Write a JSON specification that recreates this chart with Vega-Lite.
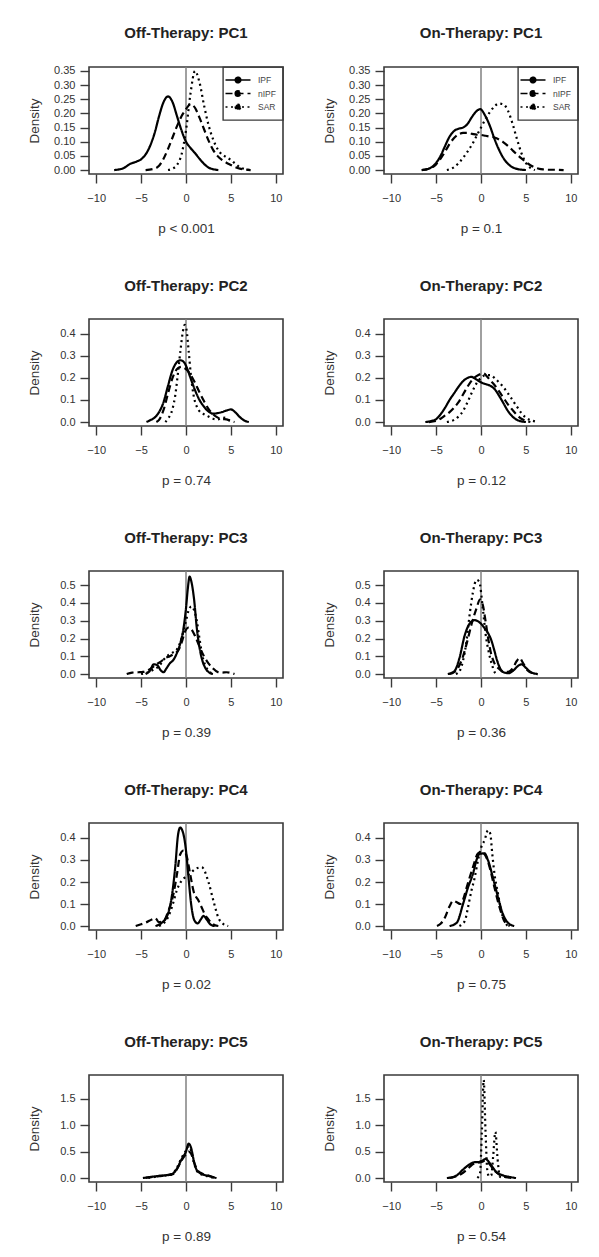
{
"$schema": "https://vega.github.io/schema/vega-lite/v6.json",
"padding": {"left": 26, "top": 25, "right": 4, "bottom": 4},
"background": "white",
"datasets": {"dens": [
{"p":"Off1","g":"IPF","x":-8,"y":0},{"p":"Off1","g":"IPF","x":-7,"y":0.006},{"p":"Off1","g":"IPF","x":-6.2,"y":0.022},{"p":"Off1","g":"IPF","x":-5.5,"y":0.03},{"p":"Off1","g":"IPF","x":-5,"y":0.038},{"p":"Off1","g":"IPF","x":-4.5,"y":0.055},{"p":"Off1","g":"IPF","x":-4,"y":0.085},{"p":"Off1","g":"IPF","x":-3.5,"y":0.13},{"p":"Off1","g":"IPF","x":-3,"y":0.19},{"p":"Off1","g":"IPF","x":-2.5,"y":0.24},{"p":"Off1","g":"IPF","x":-2,"y":0.26},{"p":"Off1","g":"IPF","x":-1.5,"y":0.24},{"p":"Off1","g":"IPF","x":-1,"y":0.19},{"p":"Off1","g":"IPF","x":-0.5,"y":0.14},{"p":"Off1","g":"IPF","x":0,"y":0.1},{"p":"Off1","g":"IPF","x":0.5,"y":0.078},{"p":"Off1","g":"IPF","x":1,"y":0.06},{"p":"Off1","g":"IPF","x":1.5,"y":0.04},{"p":"Off1","g":"IPF","x":2,"y":0.022},{"p":"Off1","g":"IPF","x":2.5,"y":0.009},{"p":"Off1","g":"IPF","x":3,"y":0.003},{"p":"Off1","g":"IPF","x":3.6,"y":0},
{"p":"Off1","g":"nIPF","x":-4.5,"y":0},{"p":"Off1","g":"nIPF","x":-3.5,"y":0.005},{"p":"Off1","g":"nIPF","x":-3,"y":0.015},{"p":"Off1","g":"nIPF","x":-2.5,"y":0.04},{"p":"Off1","g":"nIPF","x":-2,"y":0.075},{"p":"Off1","g":"nIPF","x":-1.5,"y":0.115},{"p":"Off1","g":"nIPF","x":-1,"y":0.155},{"p":"Off1","g":"nIPF","x":-0.5,"y":0.19},{"p":"Off1","g":"nIPF","x":0,"y":0.215},{"p":"Off1","g":"nIPF","x":0.5,"y":0.233},{"p":"Off1","g":"nIPF","x":1,"y":0.22},{"p":"Off1","g":"nIPF","x":1.5,"y":0.185},{"p":"Off1","g":"nIPF","x":2,"y":0.145},{"p":"Off1","g":"nIPF","x":2.5,"y":0.105},{"p":"Off1","g":"nIPF","x":3,"y":0.072},{"p":"Off1","g":"nIPF","x":3.5,"y":0.05},{"p":"Off1","g":"nIPF","x":4,"y":0.036},{"p":"Off1","g":"nIPF","x":4.5,"y":0.026},{"p":"Off1","g":"nIPF","x":5,"y":0.018},{"p":"Off1","g":"nIPF","x":5.5,"y":0.01},{"p":"Off1","g":"nIPF","x":6,"y":0.005},{"p":"Off1","g":"nIPF","x":6.5,"y":0.002},{"p":"Off1","g":"nIPF","x":7.2,"y":0},
{"p":"Off1","g":"SAR","x":-2,"y":0},{"p":"Off1","g":"SAR","x":-1.5,"y":0.005},{"p":"Off1","g":"SAR","x":-1,"y":0.018},{"p":"Off1","g":"SAR","x":-0.5,"y":0.055},{"p":"Off1","g":"SAR","x":0,"y":0.14},{"p":"Off1","g":"SAR","x":0.5,"y":0.27},{"p":"Off1","g":"SAR","x":1,"y":0.35},{"p":"Off1","g":"SAR","x":1.5,"y":0.31},{"p":"Off1","g":"SAR","x":2,"y":0.23},{"p":"Off1","g":"SAR","x":2.5,"y":0.16},{"p":"Off1","g":"SAR","x":3,"y":0.11},{"p":"Off1","g":"SAR","x":3.5,"y":0.075},{"p":"Off1","g":"SAR","x":4,"y":0.055},{"p":"Off1","g":"SAR","x":4.5,"y":0.046},{"p":"Off1","g":"SAR","x":5,"y":0.035},{"p":"Off1","g":"SAR","x":5.5,"y":0.022},{"p":"Off1","g":"SAR","x":6,"y":0.01},{"p":"Off1","g":"SAR","x":6.5,"y":0.004},{"p":"Off1","g":"SAR","x":7.3,"y":0},
{"p":"On1","g":"IPF","x":-6.6,"y":0},{"p":"On1","g":"IPF","x":-6,"y":0.003},{"p":"On1","g":"IPF","x":-5.5,"y":0.01},{"p":"On1","g":"IPF","x":-5,"y":0.025},{"p":"On1","g":"IPF","x":-4.5,"y":0.05},{"p":"On1","g":"IPF","x":-4,"y":0.085},{"p":"On1","g":"IPF","x":-3.5,"y":0.118},{"p":"On1","g":"IPF","x":-3,"y":0.138},{"p":"On1","g":"IPF","x":-2.5,"y":0.146},{"p":"On1","g":"IPF","x":-2,"y":0.15},{"p":"On1","g":"IPF","x":-1.5,"y":0.163},{"p":"On1","g":"IPF","x":-1,"y":0.188},{"p":"On1","g":"IPF","x":-0.5,"y":0.208},{"p":"On1","g":"IPF","x":-0.1,"y":0.215},{"p":"On1","g":"IPF","x":0.5,"y":0.19},{"p":"On1","g":"IPF","x":1,"y":0.155},{"p":"On1","g":"IPF","x":1.5,"y":0.11},{"p":"On1","g":"IPF","x":2,"y":0.072},{"p":"On1","g":"IPF","x":2.5,"y":0.042},{"p":"On1","g":"IPF","x":3,"y":0.022},{"p":"On1","g":"IPF","x":3.5,"y":0.01},{"p":"On1","g":"IPF","x":4,"y":0.004},{"p":"On1","g":"IPF","x":5,"y":0},
{"p":"On1","g":"nIPF","x":-6.6,"y":0},{"p":"On1","g":"nIPF","x":-6,"y":0.003},{"p":"On1","g":"nIPF","x":-5.5,"y":0.008},{"p":"On1","g":"nIPF","x":-5,"y":0.02},{"p":"On1","g":"nIPF","x":-4.5,"y":0.04},{"p":"On1","g":"nIPF","x":-4,"y":0.065},{"p":"On1","g":"nIPF","x":-3.5,"y":0.092},{"p":"On1","g":"nIPF","x":-3,"y":0.113},{"p":"On1","g":"nIPF","x":-2.5,"y":0.126},{"p":"On1","g":"nIPF","x":-2,"y":0.131},{"p":"On1","g":"nIPF","x":-1.5,"y":0.131},{"p":"On1","g":"nIPF","x":-1,"y":0.128},{"p":"On1","g":"nIPF","x":-0.5,"y":0.125},{"p":"On1","g":"nIPF","x":0,"y":0.124},{"p":"On1","g":"nIPF","x":0.5,"y":0.121},{"p":"On1","g":"nIPF","x":1,"y":0.118},{"p":"On1","g":"nIPF","x":1.5,"y":0.115},{"p":"On1","g":"nIPF","x":2,"y":0.108},{"p":"On1","g":"nIPF","x":2.5,"y":0.098},{"p":"On1","g":"nIPF","x":3,"y":0.085},{"p":"On1","g":"nIPF","x":3.5,"y":0.07},{"p":"On1","g":"nIPF","x":4,"y":0.055},{"p":"On1","g":"nIPF","x":4.5,"y":0.041},{"p":"On1","g":"nIPF","x":5,"y":0.028},{"p":"On1","g":"nIPF","x":5.5,"y":0.017},{"p":"On1","g":"nIPF","x":6,"y":0.009},{"p":"On1","g":"nIPF","x":6.5,"y":0.004},{"p":"On1","g":"nIPF","x":7,"y":0.002},{"p":"On1","g":"nIPF","x":7.5,"y":0.001},{"p":"On1","g":"nIPF","x":8.5,"y":0.001},{"p":"On1","g":"nIPF","x":9.2,"y":0},
{"p":"On1","g":"SAR","x":-3.8,"y":0},{"p":"On1","g":"SAR","x":-3,"y":0.01},{"p":"On1","g":"SAR","x":-2.5,"y":0.024},{"p":"On1","g":"SAR","x":-2,"y":0.043},{"p":"On1","g":"SAR","x":-1.5,"y":0.065},{"p":"On1","g":"SAR","x":-1,"y":0.09},{"p":"On1","g":"SAR","x":-0.5,"y":0.12},{"p":"On1","g":"SAR","x":0,"y":0.15},{"p":"On1","g":"SAR","x":0.5,"y":0.18},{"p":"On1","g":"SAR","x":1,"y":0.205},{"p":"On1","g":"SAR","x":1.5,"y":0.225},{"p":"On1","g":"SAR","x":2,"y":0.235},{"p":"On1","g":"SAR","x":2.5,"y":0.232},{"p":"On1","g":"SAR","x":3,"y":0.21},{"p":"On1","g":"SAR","x":3.5,"y":0.165},{"p":"On1","g":"SAR","x":4,"y":0.11},{"p":"On1","g":"SAR","x":4.5,"y":0.06},{"p":"On1","g":"SAR","x":5,"y":0.025},{"p":"On1","g":"SAR","x":5.5,"y":0.008},{"p":"On1","g":"SAR","x":6,"y":0},
{"p":"Off2","g":"IPF","x":-4.4,"y":0},{"p":"Off2","g":"IPF","x":-4,"y":0.008},{"p":"Off2","g":"IPF","x":-3.5,"y":0.02},{"p":"Off2","g":"IPF","x":-3,"y":0.045},{"p":"Off2","g":"IPF","x":-2.5,"y":0.09},{"p":"Off2","g":"IPF","x":-2,"y":0.165},{"p":"Off2","g":"IPF","x":-1.5,"y":0.235},{"p":"Off2","g":"IPF","x":-1,"y":0.272},{"p":"Off2","g":"IPF","x":-0.6,"y":0.28},{"p":"Off2","g":"IPF","x":-0.2,"y":0.27},{"p":"Off2","g":"IPF","x":0.2,"y":0.235},{"p":"Off2","g":"IPF","x":0.5,"y":0.2},{"p":"Off2","g":"IPF","x":1,"y":0.145},{"p":"Off2","g":"IPF","x":1.5,"y":0.1},{"p":"Off2","g":"IPF","x":2,"y":0.07},{"p":"Off2","g":"IPF","x":2.5,"y":0.048},{"p":"Off2","g":"IPF","x":3,"y":0.038},{"p":"Off2","g":"IPF","x":3.5,"y":0.04},{"p":"Off2","g":"IPF","x":4,"y":0.045},{"p":"Off2","g":"IPF","x":4.5,"y":0.052},{"p":"Off2","g":"IPF","x":5,"y":0.057},{"p":"Off2","g":"IPF","x":5.5,"y":0.044},{"p":"Off2","g":"IPF","x":6,"y":0.022},{"p":"Off2","g":"IPF","x":6.5,"y":0.007},{"p":"Off2","g":"IPF","x":7,"y":0},
{"p":"Off2","g":"nIPF","x":-3.3,"y":0},{"p":"Off2","g":"nIPF","x":-3,"y":0.01},{"p":"Off2","g":"nIPF","x":-2.5,"y":0.055},{"p":"Off2","g":"nIPF","x":-2,"y":0.13},{"p":"Off2","g":"nIPF","x":-1.5,"y":0.2},{"p":"Off2","g":"nIPF","x":-1,"y":0.24},{"p":"Off2","g":"nIPF","x":-0.5,"y":0.25},{"p":"Off2","g":"nIPF","x":0,"y":0.24},{"p":"Off2","g":"nIPF","x":0.5,"y":0.215},{"p":"Off2","g":"nIPF","x":1,"y":0.178},{"p":"Off2","g":"nIPF","x":1.5,"y":0.135},{"p":"Off2","g":"nIPF","x":2,"y":0.095},{"p":"Off2","g":"nIPF","x":2.5,"y":0.06},{"p":"Off2","g":"nIPF","x":3,"y":0.036},{"p":"Off2","g":"nIPF","x":3.5,"y":0.021},{"p":"Off2","g":"nIPF","x":4,"y":0.014},{"p":"Off2","g":"nIPF","x":4.5,"y":0.012},{"p":"Off2","g":"nIPF","x":5,"y":0.004},{"p":"Off2","g":"nIPF","x":5.4,"y":0},
{"p":"Off2","g":"SAR","x":-2.3,"y":0},{"p":"Off2","g":"SAR","x":-2,"y":0.015},{"p":"Off2","g":"SAR","x":-1.5,"y":0.06},{"p":"Off2","g":"SAR","x":-1.2,"y":0.12},{"p":"Off2","g":"SAR","x":-0.9,"y":0.22},{"p":"Off2","g":"SAR","x":-0.6,"y":0.33},{"p":"Off2","g":"SAR","x":-0.35,"y":0.41},{"p":"Off2","g":"SAR","x":-0.15,"y":0.44},{"p":"Off2","g":"SAR","x":0.05,"y":0.42},{"p":"Off2","g":"SAR","x":0.3,"y":0.32},{"p":"Off2","g":"SAR","x":0.55,"y":0.21},{"p":"Off2","g":"SAR","x":0.85,"y":0.12},{"p":"Off2","g":"SAR","x":1.2,"y":0.07},{"p":"Off2","g":"SAR","x":1.6,"y":0.045},{"p":"Off2","g":"SAR","x":2,"y":0.035},{"p":"Off2","g":"SAR","x":2.5,"y":0.025},{"p":"Off2","g":"SAR","x":3,"y":0.015},{"p":"Off2","g":"SAR","x":3.5,"y":0.012},{"p":"Off2","g":"SAR","x":4,"y":0.018},{"p":"Off2","g":"SAR","x":4.4,"y":0.02},{"p":"Off2","g":"SAR","x":4.8,"y":0.008},{"p":"Off2","g":"SAR","x":5.2,"y":0},
{"p":"On2","g":"IPF","x":-6.2,"y":0},{"p":"On2","g":"IPF","x":-5.5,"y":0.005},{"p":"On2","g":"IPF","x":-5,"y":0.013},{"p":"On2","g":"IPF","x":-4.5,"y":0.035},{"p":"On2","g":"IPF","x":-4,"y":0.065},{"p":"On2","g":"IPF","x":-3.5,"y":0.1},{"p":"On2","g":"IPF","x":-3,"y":0.13},{"p":"On2","g":"IPF","x":-2.5,"y":0.16},{"p":"On2","g":"IPF","x":-2,"y":0.185},{"p":"On2","g":"IPF","x":-1.5,"y":0.2},{"p":"On2","g":"IPF","x":-1.1,"y":0.205},{"p":"On2","g":"IPF","x":-0.6,"y":0.195},{"p":"On2","g":"IPF","x":0,"y":0.18},{"p":"On2","g":"IPF","x":0.5,"y":0.172},{"p":"On2","g":"IPF","x":1,"y":0.165},{"p":"On2","g":"IPF","x":1.5,"y":0.15},{"p":"On2","g":"IPF","x":2,"y":0.12},{"p":"On2","g":"IPF","x":2.5,"y":0.085},{"p":"On2","g":"IPF","x":3,"y":0.05},{"p":"On2","g":"IPF","x":3.5,"y":0.025},{"p":"On2","g":"IPF","x":4,"y":0.01},{"p":"On2","g":"IPF","x":4.5,"y":0.003},{"p":"On2","g":"IPF","x":5,"y":0},
{"p":"On2","g":"nIPF","x":-5.8,"y":0},{"p":"On2","g":"nIPF","x":-5,"y":0.005},{"p":"On2","g":"nIPF","x":-4.5,"y":0.015},{"p":"On2","g":"nIPF","x":-4,"y":0.03},{"p":"On2","g":"nIPF","x":-3.5,"y":0.045},{"p":"On2","g":"nIPF","x":-3,"y":0.065},{"p":"On2","g":"nIPF","x":-2.5,"y":0.09},{"p":"On2","g":"nIPF","x":-2,"y":0.125},{"p":"On2","g":"nIPF","x":-1.5,"y":0.16},{"p":"On2","g":"nIPF","x":-1,"y":0.19},{"p":"On2","g":"nIPF","x":-0.5,"y":0.208},{"p":"On2","g":"nIPF","x":0,"y":0.218},{"p":"On2","g":"nIPF","x":0.3,"y":0.22},{"p":"On2","g":"nIPF","x":0.7,"y":0.205},{"p":"On2","g":"nIPF","x":1,"y":0.19},{"p":"On2","g":"nIPF","x":1.5,"y":0.168},{"p":"On2","g":"nIPF","x":2,"y":0.14},{"p":"On2","g":"nIPF","x":2.5,"y":0.11},{"p":"On2","g":"nIPF","x":3,"y":0.08},{"p":"On2","g":"nIPF","x":3.5,"y":0.055},{"p":"On2","g":"nIPF","x":4,"y":0.032},{"p":"On2","g":"nIPF","x":4.5,"y":0.015},{"p":"On2","g":"nIPF","x":5,"y":0.006},{"p":"On2","g":"nIPF","x":5.5,"y":0},
{"p":"On2","g":"SAR","x":-3.8,"y":0},{"p":"On2","g":"SAR","x":-3,"y":0.01},{"p":"On2","g":"SAR","x":-2.5,"y":0.025},{"p":"On2","g":"SAR","x":-2,"y":0.05},{"p":"On2","g":"SAR","x":-1.5,"y":0.09},{"p":"On2","g":"SAR","x":-1,"y":0.135},{"p":"On2","g":"SAR","x":-0.5,"y":0.175},{"p":"On2","g":"SAR","x":0,"y":0.2},{"p":"On2","g":"SAR","x":0.5,"y":0.213},{"p":"On2","g":"SAR","x":1,"y":0.213},{"p":"On2","g":"SAR","x":1.5,"y":0.2},{"p":"On2","g":"SAR","x":2,"y":0.18},{"p":"On2","g":"SAR","x":2.5,"y":0.158},{"p":"On2","g":"SAR","x":3,"y":0.13},{"p":"On2","g":"SAR","x":3.5,"y":0.1},{"p":"On2","g":"SAR","x":4,"y":0.07},{"p":"On2","g":"SAR","x":4.5,"y":0.04},{"p":"On2","g":"SAR","x":5,"y":0.02},{"p":"On2","g":"SAR","x":5.5,"y":0.009},{"p":"On2","g":"SAR","x":6,"y":0.003},{"p":"On2","g":"SAR","x":6.3,"y":0},
{"p":"Off3","g":"IPF","x":-4.5,"y":0},{"p":"Off3","g":"IPF","x":-4,"y":0.02},{"p":"Off3","g":"IPF","x":-3.6,"y":0.055},{"p":"Off3","g":"IPF","x":-3.2,"y":0.05},{"p":"Off3","g":"IPF","x":-2.8,"y":0.02},{"p":"Off3","g":"IPF","x":-2.5,"y":0.01},{"p":"Off3","g":"IPF","x":-2.2,"y":0.03},{"p":"Off3","g":"IPF","x":-1.8,"y":0.06},{"p":"Off3","g":"IPF","x":-1.4,"y":0.08},{"p":"Off3","g":"IPF","x":-1,"y":0.12},{"p":"Off3","g":"IPF","x":-0.6,"y":0.18},{"p":"Off3","g":"IPF","x":-0.3,"y":0.25},{"p":"Off3","g":"IPF","x":0,"y":0.37},{"p":"Off3","g":"IPF","x":0.2,"y":0.48},{"p":"Off3","g":"IPF","x":0.4,"y":0.548},{"p":"Off3","g":"IPF","x":0.6,"y":0.52},{"p":"Off3","g":"IPF","x":0.9,"y":0.42},{"p":"Off3","g":"IPF","x":1.2,"y":0.26},{"p":"Off3","g":"IPF","x":1.5,"y":0.15},{"p":"Off3","g":"IPF","x":1.8,"y":0.08},{"p":"Off3","g":"IPF","x":2.2,"y":0.03},{"p":"Off3","g":"IPF","x":2.6,"y":0.008},{"p":"Off3","g":"IPF","x":3,"y":0},
{"p":"Off3","g":"nIPF","x":-6.6,"y":0},{"p":"Off3","g":"nIPF","x":-6,"y":0.008},{"p":"Off3","g":"nIPF","x":-5.3,"y":0.01},{"p":"Off3","g":"nIPF","x":-4.8,"y":0.012},{"p":"Off3","g":"nIPF","x":-4.3,"y":0.02},{"p":"Off3","g":"nIPF","x":-3.8,"y":0.035},{"p":"Off3","g":"nIPF","x":-3.3,"y":0.055},{"p":"Off3","g":"nIPF","x":-2.8,"y":0.07},{"p":"Off3","g":"nIPF","x":-2.3,"y":0.09},{"p":"Off3","g":"nIPF","x":-1.8,"y":0.1},{"p":"Off3","g":"nIPF","x":-1.3,"y":0.115},{"p":"Off3","g":"nIPF","x":-0.9,"y":0.13},{"p":"Off3","g":"nIPF","x":-0.5,"y":0.175},{"p":"Off3","g":"nIPF","x":-0.1,"y":0.24},{"p":"Off3","g":"nIPF","x":0.3,"y":0.262},{"p":"Off3","g":"nIPF","x":0.7,"y":0.245},{"p":"Off3","g":"nIPF","x":1,"y":0.215},{"p":"Off3","g":"nIPF","x":1.5,"y":0.155},{"p":"Off3","g":"nIPF","x":2,"y":0.1},{"p":"Off3","g":"nIPF","x":2.5,"y":0.06},{"p":"Off3","g":"nIPF","x":3,"y":0.032},{"p":"Off3","g":"nIPF","x":3.5,"y":0.012},{"p":"Off3","g":"nIPF","x":4,"y":0.008},{"p":"Off3","g":"nIPF","x":4.5,"y":0.01},{"p":"Off3","g":"nIPF","x":5,"y":0.006},{"p":"Off3","g":"nIPF","x":5.4,"y":0},
{"p":"Off3","g":"SAR","x":-5,"y":0},{"p":"Off3","g":"SAR","x":-4.3,"y":0.008},{"p":"Off3","g":"SAR","x":-3.6,"y":0.025},{"p":"Off3","g":"SAR","x":-3,"y":0.045},{"p":"Off3","g":"SAR","x":-2.5,"y":0.08},{"p":"Off3","g":"SAR","x":-2,"y":0.105},{"p":"Off3","g":"SAR","x":-1.5,"y":0.12},{"p":"Off3","g":"SAR","x":-1,"y":0.14},{"p":"Off3","g":"SAR","x":-0.5,"y":0.2},{"p":"Off3","g":"SAR","x":0,"y":0.3},{"p":"Off3","g":"SAR","x":0.3,"y":0.36},{"p":"Off3","g":"SAR","x":0.6,"y":0.38},{"p":"Off3","g":"SAR","x":0.9,"y":0.36},{"p":"Off3","g":"SAR","x":1.2,"y":0.3},{"p":"Off3","g":"SAR","x":1.5,"y":0.2},{"p":"Off3","g":"SAR","x":1.8,"y":0.11},{"p":"Off3","g":"SAR","x":2.1,"y":0.055},{"p":"Off3","g":"SAR","x":2.5,"y":0.02},{"p":"Off3","g":"SAR","x":3,"y":0},
{"p":"On3","g":"IPF","x":-3.7,"y":0},{"p":"On3","g":"IPF","x":-3.3,"y":0.006},{"p":"On3","g":"IPF","x":-2.9,"y":0.02},{"p":"On3","g":"IPF","x":-2.4,"y":0.09},{"p":"On3","g":"IPF","x":-1.8,"y":0.22},{"p":"On3","g":"IPF","x":-1.25,"y":0.285},{"p":"On3","g":"IPF","x":-0.7,"y":0.303},{"p":"On3","g":"IPF","x":-0.15,"y":0.29},{"p":"On3","g":"IPF","x":0.3,"y":0.265},{"p":"On3","g":"IPF","x":0.6,"y":0.245},{"p":"On3","g":"IPF","x":1.15,"y":0.19},{"p":"On3","g":"IPF","x":1.5,"y":0.13},{"p":"On3","g":"IPF","x":1.8,"y":0.075},{"p":"On3","g":"IPF","x":2.1,"y":0.035},{"p":"On3","g":"IPF","x":2.6,"y":0.008},{"p":"On3","g":"IPF","x":3.1,"y":0.005},{"p":"On3","g":"IPF","x":3.6,"y":0.02},{"p":"On3","g":"IPF","x":4.1,"y":0.045},{"p":"On3","g":"IPF","x":4.5,"y":0.055},{"p":"On3","g":"IPF","x":5,"y":0.035},{"p":"On3","g":"IPF","x":5.5,"y":0.012},{"p":"On3","g":"IPF","x":6.3,"y":0},
{"p":"On3","g":"nIPF","x":-3.5,"y":0},{"p":"On3","g":"nIPF","x":-3,"y":0.01},{"p":"On3","g":"nIPF","x":-2.5,"y":0.04},{"p":"On3","g":"nIPF","x":-2,"y":0.1},{"p":"On3","g":"nIPF","x":-1.5,"y":0.19},{"p":"On3","g":"nIPF","x":-1,"y":0.29},{"p":"On3","g":"nIPF","x":-0.5,"y":0.37},{"p":"On3","g":"nIPF","x":-0.1,"y":0.42},{"p":"On3","g":"nIPF","x":0.2,"y":0.39},{"p":"On3","g":"nIPF","x":0.5,"y":0.3},{"p":"On3","g":"nIPF","x":0.8,"y":0.2},{"p":"On3","g":"nIPF","x":1.1,"y":0.12},{"p":"On3","g":"nIPF","x":1.5,"y":0.06},{"p":"On3","g":"nIPF","x":2,"y":0.03},{"p":"On3","g":"nIPF","x":2.5,"y":0.012},{"p":"On3","g":"nIPF","x":3,"y":0.012},{"p":"On3","g":"nIPF","x":3.5,"y":0.03},{"p":"On3","g":"nIPF","x":4,"y":0.075},{"p":"On3","g":"nIPF","x":4.3,"y":0.09},{"p":"On3","g":"nIPF","x":4.7,"y":0.06},{"p":"On3","g":"nIPF","x":5.2,"y":0.02},{"p":"On3","g":"nIPF","x":5.8,"y":0.004},{"p":"On3","g":"nIPF","x":6.3,"y":0},
{"p":"On3","g":"SAR","x":-2.8,"y":0},{"p":"On3","g":"SAR","x":-2.4,"y":0.015},{"p":"On3","g":"SAR","x":-2,"y":0.075},{"p":"On3","g":"SAR","x":-1.6,"y":0.19},{"p":"On3","g":"SAR","x":-1.25,"y":0.34},{"p":"On3","g":"SAR","x":-0.9,"y":0.46},{"p":"On3","g":"SAR","x":-0.5,"y":0.53},{"p":"On3","g":"SAR","x":-0.2,"y":0.52},{"p":"On3","g":"SAR","x":0.2,"y":0.37},{"p":"On3","g":"SAR","x":0.5,"y":0.23},{"p":"On3","g":"SAR","x":0.9,"y":0.115},{"p":"On3","g":"SAR","x":1.25,"y":0.048},{"p":"On3","g":"SAR","x":1.5,"y":0.012},{"p":"On3","g":"SAR","x":1.8,"y":0},
{"p":"Off4","g":"IPF","x":-3.4,"y":0},{"p":"Off4","g":"IPF","x":-2.7,"y":0.015},{"p":"Off4","g":"IPF","x":-2.1,"y":0.046},{"p":"Off4","g":"IPF","x":-1.6,"y":0.13},{"p":"Off4","g":"IPF","x":-1.2,"y":0.267},{"p":"Off4","g":"IPF","x":-0.9,"y":0.41},{"p":"Off4","g":"IPF","x":-0.65,"y":0.447},{"p":"Off4","g":"IPF","x":-0.3,"y":0.42},{"p":"Off4","g":"IPF","x":0,"y":0.343},{"p":"Off4","g":"IPF","x":0.28,"y":0.22},{"p":"Off4","g":"IPF","x":0.57,"y":0.1},{"p":"Off4","g":"IPF","x":0.94,"y":0.025},{"p":"Off4","g":"IPF","x":1.3,"y":0.012},{"p":"Off4","g":"IPF","x":1.65,"y":0.03},{"p":"Off4","g":"IPF","x":1.95,"y":0.046},{"p":"Off4","g":"IPF","x":2.3,"y":0.03},{"p":"Off4","g":"IPF","x":2.7,"y":0.008},{"p":"Off4","g":"IPF","x":3.2,"y":0},
{"p":"Off4","g":"nIPF","x":-5.6,"y":0},{"p":"Off4","g":"nIPF","x":-5,"y":0.008},{"p":"Off4","g":"nIPF","x":-4.5,"y":0.015},{"p":"Off4","g":"nIPF","x":-3.8,"y":0.03},{"p":"Off4","g":"nIPF","x":-3.4,"y":0.036},{"p":"Off4","g":"nIPF","x":-3.05,"y":0.018},{"p":"Off4","g":"nIPF","x":-2.5,"y":0.023},{"p":"Off4","g":"nIPF","x":-1.95,"y":0.07},{"p":"Off4","g":"nIPF","x":-1.4,"y":0.145},{"p":"Off4","g":"nIPF","x":-1,"y":0.237},{"p":"Off4","g":"nIPF","x":-0.65,"y":0.325},{"p":"Off4","g":"nIPF","x":-0.28,"y":0.343},{"p":"Off4","g":"nIPF","x":0.1,"y":0.313},{"p":"Off4","g":"nIPF","x":0.46,"y":0.237},{"p":"Off4","g":"nIPF","x":0.83,"y":0.16},{"p":"Off4","g":"nIPF","x":1.4,"y":0.115},{"p":"Off4","g":"nIPF","x":1.75,"y":0.084},{"p":"Off4","g":"nIPF","x":2.1,"y":0.053},{"p":"Off4","g":"nIPF","x":2.5,"y":0.03},{"p":"Off4","g":"nIPF","x":3,"y":0.008},{"p":"Off4","g":"nIPF","x":3.6,"y":0},
{"p":"Off4","g":"SAR","x":-3,"y":0},{"p":"Off4","g":"SAR","x":-2.5,"y":0.012},{"p":"Off4","g":"SAR","x":-2,"y":0.04},{"p":"Off4","g":"SAR","x":-1.5,"y":0.095},{"p":"Off4","g":"SAR","x":-1,"y":0.165},{"p":"Off4","g":"SAR","x":-0.5,"y":0.205},{"p":"Off4","g":"SAR","x":0,"y":0.225},{"p":"Off4","g":"SAR","x":0.5,"y":0.24},{"p":"Off4","g":"SAR","x":1,"y":0.258},{"p":"Off4","g":"SAR","x":1.75,"y":0.267},{"p":"Off4","g":"SAR","x":2.5,"y":0.2},{"p":"Off4","g":"SAR","x":3.05,"y":0.115},{"p":"Off4","g":"SAR","x":3.6,"y":0.038},{"p":"Off4","g":"SAR","x":4.2,"y":0.008},{"p":"Off4","g":"SAR","x":4.7,"y":0},
{"p":"On4","g":"IPF","x":-3.5,"y":0},{"p":"On4","g":"IPF","x":-2.7,"y":0.015},{"p":"On4","g":"IPF","x":-2,"y":0.1},{"p":"On4","g":"IPF","x":-1.45,"y":0.175},{"p":"On4","g":"IPF","x":-0.9,"y":0.237},{"p":"On4","g":"IPF","x":-0.5,"y":0.3},{"p":"On4","g":"IPF","x":-0.15,"y":0.328},{"p":"On4","g":"IPF","x":0.4,"y":0.33},{"p":"On4","g":"IPF","x":0.77,"y":0.3},{"p":"On4","g":"IPF","x":1.33,"y":0.22},{"p":"On4","g":"IPF","x":1.9,"y":0.13},{"p":"On4","g":"IPF","x":2.45,"y":0.053},{"p":"On4","g":"IPF","x":3,"y":0.015},{"p":"On4","g":"IPF","x":3.7,"y":0},
{"p":"On4","g":"nIPF","x":-4.9,"y":0},{"p":"On4","g":"nIPF","x":-4.5,"y":0.01},{"p":"On4","g":"nIPF","x":-4,"y":0.04},{"p":"On4","g":"nIPF","x":-3.5,"y":0.09},{"p":"On4","g":"nIPF","x":-3.1,"y":0.115},{"p":"On4","g":"nIPF","x":-2.7,"y":0.108},{"p":"On4","g":"nIPF","x":-2.3,"y":0.1},{"p":"On4","g":"nIPF","x":-2,"y":0.12},{"p":"On4","g":"nIPF","x":-1.6,"y":0.175},{"p":"On4","g":"nIPF","x":-0.9,"y":0.267},{"p":"On4","g":"nIPF","x":-0.33,"y":0.33},{"p":"On4","g":"nIPF","x":0.04,"y":0.336},{"p":"On4","g":"nIPF","x":0.5,"y":0.32},{"p":"On4","g":"nIPF","x":0.96,"y":0.267},{"p":"On4","g":"nIPF","x":1.5,"y":0.175},{"p":"On4","g":"nIPF","x":2.07,"y":0.084},{"p":"On4","g":"nIPF","x":2.6,"y":0.023},{"p":"On4","g":"nIPF","x":3.2,"y":0},
{"p":"On4","g":"SAR","x":-2.4,"y":0},{"p":"On4","g":"SAR","x":-1.8,"y":0.023},{"p":"On4","g":"SAR","x":-1.45,"y":0.084},{"p":"On4","g":"SAR","x":-1.07,"y":0.16},{"p":"On4","g":"SAR","x":-0.7,"y":0.22},{"p":"On4","g":"SAR","x":-0.33,"y":0.3},{"p":"On4","g":"SAR","x":0.04,"y":0.36},{"p":"On4","g":"SAR","x":0.4,"y":0.39},{"p":"On4","g":"SAR","x":0.77,"y":0.435},{"p":"On4","g":"SAR","x":1.03,"y":0.42},{"p":"On4","g":"SAR","x":1.25,"y":0.33},{"p":"On4","g":"SAR","x":1.5,"y":0.237},{"p":"On4","g":"SAR","x":1.9,"y":0.145},{"p":"On4","g":"SAR","x":2.25,"y":0.069},{"p":"On4","g":"SAR","x":2.6,"y":0.023},{"p":"On4","g":"SAR","x":3,"y":0},
{"p":"Off5","g":"IPF","x":-4.8,"y":0},{"p":"Off5","g":"IPF","x":-4,"y":0.02},{"p":"Off5","g":"IPF","x":-3,"y":0.04},{"p":"Off5","g":"IPF","x":-2,"y":0.06},{"p":"Off5","g":"IPF","x":-1.5,"y":0.08},{"p":"Off5","g":"IPF","x":-1,"y":0.18},{"p":"Off5","g":"IPF","x":-0.5,"y":0.35},{"p":"Off5","g":"IPF","x":0,"y":0.5},{"p":"Off5","g":"IPF","x":0.3,"y":0.65},{"p":"Off5","g":"IPF","x":0.6,"y":0.55},{"p":"Off5","g":"IPF","x":0.9,"y":0.3},{"p":"Off5","g":"IPF","x":1.2,"y":0.15},{"p":"Off5","g":"IPF","x":1.6,"y":0.09},{"p":"Off5","g":"IPF","x":2,"y":0.06},{"p":"Off5","g":"IPF","x":2.5,"y":0.04},{"p":"Off5","g":"IPF","x":3,"y":0.015},{"p":"Off5","g":"IPF","x":3.4,"y":0},
{"p":"Off5","g":"nIPF","x":-4.5,"y":0},{"p":"Off5","g":"nIPF","x":-4,"y":0.015},{"p":"Off5","g":"nIPF","x":-3,"y":0.035},{"p":"Off5","g":"nIPF","x":-2,"y":0.055},{"p":"Off5","g":"nIPF","x":-1.5,"y":0.07},{"p":"Off5","g":"nIPF","x":-1,"y":0.17},{"p":"Off5","g":"nIPF","x":-0.5,"y":0.33},{"p":"Off5","g":"nIPF","x":0,"y":0.45},{"p":"Off5","g":"nIPF","x":0.3,"y":0.5},{"p":"Off5","g":"nIPF","x":0.6,"y":0.45},{"p":"Off5","g":"nIPF","x":0.9,"y":0.3},{"p":"Off5","g":"nIPF","x":1.2,"y":0.17},{"p":"Off5","g":"nIPF","x":1.6,"y":0.1},{"p":"Off5","g":"nIPF","x":2,"y":0.07},{"p":"Off5","g":"nIPF","x":2.5,"y":0.045},{"p":"Off5","g":"nIPF","x":3,"y":0.02},{"p":"Off5","g":"nIPF","x":3.4,"y":0},
{"p":"Off5","g":"SAR","x":-4.2,"y":0},{"p":"Off5","g":"SAR","x":-3.5,"y":0.02},{"p":"Off5","g":"SAR","x":-3,"y":0.04},{"p":"Off5","g":"SAR","x":-2,"y":0.05},{"p":"Off5","g":"SAR","x":-1.5,"y":0.08},{"p":"Off5","g":"SAR","x":-1,"y":0.2},{"p":"Off5","g":"SAR","x":-0.5,"y":0.38},{"p":"Off5","g":"SAR","x":0,"y":0.52},{"p":"Off5","g":"SAR","x":0.3,"y":0.6},{"p":"Off5","g":"SAR","x":0.6,"y":0.5},{"p":"Off5","g":"SAR","x":0.9,"y":0.28},{"p":"Off5","g":"SAR","x":1.2,"y":0.14},{"p":"Off5","g":"SAR","x":1.6,"y":0.08},{"p":"Off5","g":"SAR","x":2,"y":0.05},{"p":"Off5","g":"SAR","x":2.5,"y":0.03},{"p":"Off5","g":"SAR","x":3,"y":0.01},{"p":"Off5","g":"SAR","x":3.3,"y":0},
{"p":"On5","g":"IPF","x":-3.8,"y":0},{"p":"On5","g":"IPF","x":-3,"y":0.025},{"p":"On5","g":"IPF","x":-2.7,"y":0.05},{"p":"On5","g":"IPF","x":-2,"y":0.16},{"p":"On5","g":"IPF","x":-1.25,"y":0.26},{"p":"On5","g":"IPF","x":-0.7,"y":0.3},{"p":"On5","g":"IPF","x":-0.3,"y":0.3},{"p":"On5","g":"IPF","x":0.1,"y":0.32},{"p":"On5","g":"IPF","x":0.5,"y":0.36},{"p":"On5","g":"IPF","x":0.8,"y":0.32},{"p":"On5","g":"IPF","x":1.15,"y":0.24},{"p":"On5","g":"IPF","x":1.7,"y":0.115},{"p":"On5","g":"IPF","x":2.45,"y":0.05},{"p":"On5","g":"IPF","x":3.2,"y":0.02},{"p":"On5","g":"IPF","x":3.9,"y":0},
{"p":"On5","g":"nIPF","x":-3.5,"y":0},{"p":"On5","g":"nIPF","x":-3,"y":0.02},{"p":"On5","g":"nIPF","x":-2.5,"y":0.05},{"p":"On5","g":"nIPF","x":-2,"y":0.1},{"p":"On5","g":"nIPF","x":-1.5,"y":0.17},{"p":"On5","g":"nIPF","x":-1,"y":0.25},{"p":"On5","g":"nIPF","x":-0.5,"y":0.29},{"p":"On5","g":"nIPF","x":0,"y":0.3},{"p":"On5","g":"nIPF","x":0.5,"y":0.33},{"p":"On5","g":"nIPF","x":1,"y":0.25},{"p":"On5","g":"nIPF","x":1.5,"y":0.14},{"p":"On5","g":"nIPF","x":2,"y":0.07},{"p":"On5","g":"nIPF","x":2.5,"y":0.03},{"p":"On5","g":"nIPF","x":3,"y":0.01},{"p":"On5","g":"nIPF","x":3.5,"y":0},
{"p":"On5","g":"SAR","x":-0.4,"y":0},{"p":"On5","g":"SAR","x":-0.1,"y":0.1},{"p":"On5","g":"SAR","x":0.1,"y":0.9},{"p":"On5","g":"SAR","x":0.3,"y":1.85},{"p":"On5","g":"SAR","x":0.5,"y":0.9},{"p":"On5","g":"SAR","x":0.7,"y":0.15},{"p":"On5","g":"SAR","x":0.9,"y":0.03},{"p":"On5","g":"SAR","x":1.15,"y":0.05},{"p":"On5","g":"SAR","x":1.35,"y":0.4},{"p":"On5","g":"SAR","x":1.6,"y":0.87},{"p":"On5","g":"SAR","x":1.85,"y":0.35},{"p":"On5","g":"SAR","x":2.1,"y":0.03},{"p":"On5","g":"SAR","x":2.4,"y":0}
]},
"columns": 2,
"bounds": "flush",
"spacing": {"row": 145, "column": 101},
"resolve": {"legend": {"strokeDash": "independent"}},
"concat": [
{"title": "Off-Therapy: PC1", "width": 194, "height": 107, "layer": [
 {"data": {"values": [{}]}, "mark": {"type": "rule", "color": "#808080", "strokeWidth": 1.5}, "encoding": {"x": {"datum": 0}}},
 {"data": {"name": "dens"}, "transform": [{"filter": "datum.p === 'Off1'"}], "mark": {"type": "line", "color": "black", "strokeWidth": 2.2, "interpolate": "monotone"},
  "encoding": {"x": {"field": "x", "type": "quantitative", "scale": {"domain": [-10.8, 10.8], "nice": false, "zero": false}, "axis": {"values": [-10, -5, 0, 5, 10], "title": "p < 0.001"}},
   "y": {"field": "y", "type": "quantitative", "scale": {"domain": [-0.014, 0.364], "nice": false, "zero": false}, "axis": {"values": [0, 0.05, 0.1, 0.15, 0.2, 0.25, 0.3, 0.35], "format": ".2f", "title": "Density"}},
   "strokeDash": {"field": "g", "type": "nominal", "scale": {"domain": ["IPF", "nIPF", "SAR"], "range": [[1, 0], [7, 4], [2, 3.5]]}, "legend": {"orient": "top-right", "offset": 0, "title": null}}}}
]},
{"title": "On-Therapy: PC1", "width": 194, "height": 107, "layer": [
 {"data": {"values": [{}]}, "mark": {"type": "rule", "color": "#808080", "strokeWidth": 1.5}, "encoding": {"x": {"datum": 0}}},
 {"data": {"name": "dens"}, "transform": [{"filter": "datum.p === 'On1'"}], "mark": {"type": "line", "color": "black", "strokeWidth": 2.2, "interpolate": "monotone"},
  "encoding": {"x": {"field": "x", "type": "quantitative", "scale": {"domain": [-10.8, 10.8], "nice": false, "zero": false}, "axis": {"values": [-10, -5, 0, 5, 10], "title": "p = 0.1"}},
   "y": {"field": "y", "type": "quantitative", "scale": {"domain": [-0.014, 0.364], "nice": false, "zero": false}, "axis": {"values": [0, 0.05, 0.1, 0.15, 0.2, 0.25, 0.3, 0.35], "format": ".2f", "title": "Density"}},
   "strokeDash": {"field": "g", "type": "nominal", "scale": {"domain": ["IPF", "nIPF", "SAR"], "range": [[1, 0], [7, 4], [2, 3.5]]}, "legend": {"orient": "top-right", "offset": 0, "title": null}}}}
]},
{"title": "Off-Therapy: PC2", "width": 194, "height": 107, "layer": [
 {"data": {"values": [{}]}, "mark": {"type": "rule", "color": "#808080", "strokeWidth": 1.5}, "encoding": {"x": {"datum": 0}}},
 {"data": {"name": "dens"}, "transform": [{"filter": "datum.p === 'Off2'"}], "mark": {"type": "line", "color": "black", "strokeWidth": 2.2, "interpolate": "monotone"},
  "encoding": {"x": {"field": "x", "type": "quantitative", "scale": {"domain": [-10.8, 10.8], "nice": false, "zero": false}, "axis": {"values": [-10, -5, 0, 5, 10], "title": "p = 0.74"}},
   "y": {"field": "y", "type": "quantitative", "scale": {"domain": [-0.018, 0.467], "nice": false, "zero": false}, "axis": {"values": [0, 0.1, 0.2, 0.3, 0.4], "format": ".1f", "title": "Density"}},
   "strokeDash": {"field": "g", "type": "nominal", "scale": {"domain": ["IPF", "nIPF", "SAR"], "range": [[1, 0], [7, 4], [2, 3.5]]}, "legend": null}}}
]},
{"title": "On-Therapy: PC2", "width": 194, "height": 107, "layer": [
 {"data": {"values": [{}]}, "mark": {"type": "rule", "color": "#808080", "strokeWidth": 1.5}, "encoding": {"x": {"datum": 0}}},
 {"data": {"name": "dens"}, "transform": [{"filter": "datum.p === 'On2'"}], "mark": {"type": "line", "color": "black", "strokeWidth": 2.2, "interpolate": "monotone"},
  "encoding": {"x": {"field": "x", "type": "quantitative", "scale": {"domain": [-10.8, 10.8], "nice": false, "zero": false}, "axis": {"values": [-10, -5, 0, 5, 10], "title": "p = 0.12"}},
   "y": {"field": "y", "type": "quantitative", "scale": {"domain": [-0.018, 0.467], "nice": false, "zero": false}, "axis": {"values": [0, 0.1, 0.2, 0.3, 0.4], "format": ".1f", "title": "Density"}},
   "strokeDash": {"field": "g", "type": "nominal", "scale": {"domain": ["IPF", "nIPF", "SAR"], "range": [[1, 0], [7, 4], [2, 3.5]]}, "legend": null}}}
]},
{"title": "Off-Therapy: PC3", "width": 194, "height": 107, "layer": [
 {"data": {"values": [{}]}, "mark": {"type": "rule", "color": "#808080", "strokeWidth": 1.5}, "encoding": {"x": {"datum": 0}}},
 {"data": {"name": "dens"}, "transform": [{"filter": "datum.p === 'Off3'"}], "mark": {"type": "line", "color": "black", "strokeWidth": 2.2, "interpolate": "monotone"},
  "encoding": {"x": {"field": "x", "type": "quantitative", "scale": {"domain": [-10.8, 10.8], "nice": false, "zero": false}, "axis": {"values": [-10, -5, 0, 5, 10], "title": "p = 0.39"}},
   "y": {"field": "y", "type": "quantitative", "scale": {"domain": [-0.0223, 0.58], "nice": false, "zero": false}, "axis": {"values": [0, 0.1, 0.2, 0.3, 0.4, 0.5], "format": ".1f", "title": "Density"}},
   "strokeDash": {"field": "g", "type": "nominal", "scale": {"domain": ["IPF", "nIPF", "SAR"], "range": [[1, 0], [7, 4], [2, 3.5]]}, "legend": null}}}
]},
{"title": "On-Therapy: PC3", "width": 194, "height": 107, "layer": [
 {"data": {"values": [{}]}, "mark": {"type": "rule", "color": "#808080", "strokeWidth": 1.5}, "encoding": {"x": {"datum": 0}}},
 {"data": {"name": "dens"}, "transform": [{"filter": "datum.p === 'On3'"}], "mark": {"type": "line", "color": "black", "strokeWidth": 2.2, "interpolate": "monotone"},
  "encoding": {"x": {"field": "x", "type": "quantitative", "scale": {"domain": [-10.8, 10.8], "nice": false, "zero": false}, "axis": {"values": [-10, -5, 0, 5, 10], "title": "p = 0.36"}},
   "y": {"field": "y", "type": "quantitative", "scale": {"domain": [-0.0223, 0.58], "nice": false, "zero": false}, "axis": {"values": [0, 0.1, 0.2, 0.3, 0.4, 0.5], "format": ".1f", "title": "Density"}},
   "strokeDash": {"field": "g", "type": "nominal", "scale": {"domain": ["IPF", "nIPF", "SAR"], "range": [[1, 0], [7, 4], [2, 3.5]]}, "legend": null}}}
]},
{"title": "Off-Therapy: PC4", "width": 194, "height": 107, "layer": [
 {"data": {"values": [{}]}, "mark": {"type": "rule", "color": "#808080", "strokeWidth": 1.5}, "encoding": {"x": {"datum": 0}}},
 {"data": {"name": "dens"}, "transform": [{"filter": "datum.p === 'Off4'"}], "mark": {"type": "line", "color": "black", "strokeWidth": 2.2, "interpolate": "monotone"},
  "encoding": {"x": {"field": "x", "type": "quantitative", "scale": {"domain": [-10.8, 10.8], "nice": false, "zero": false}, "axis": {"values": [-10, -5, 0, 5, 10], "title": "p = 0.02"}},
   "y": {"field": "y", "type": "quantitative", "scale": {"domain": [-0.018, 0.468], "nice": false, "zero": false}, "axis": {"values": [0, 0.1, 0.2, 0.3, 0.4], "format": ".1f", "title": "Density"}},
   "strokeDash": {"field": "g", "type": "nominal", "scale": {"domain": ["IPF", "nIPF", "SAR"], "range": [[1, 0], [7, 4], [2, 3.5]]}, "legend": null}}}
]},
{"title": "On-Therapy: PC4", "width": 194, "height": 107, "layer": [
 {"data": {"values": [{}]}, "mark": {"type": "rule", "color": "#808080", "strokeWidth": 1.5}, "encoding": {"x": {"datum": 0}}},
 {"data": {"name": "dens"}, "transform": [{"filter": "datum.p === 'On4'"}], "mark": {"type": "line", "color": "black", "strokeWidth": 2.2, "interpolate": "monotone"},
  "encoding": {"x": {"field": "x", "type": "quantitative", "scale": {"domain": [-10.8, 10.8], "nice": false, "zero": false}, "axis": {"values": [-10, -5, 0, 5, 10], "title": "p = 0.75"}},
   "y": {"field": "y", "type": "quantitative", "scale": {"domain": [-0.018, 0.468], "nice": false, "zero": false}, "axis": {"values": [0, 0.1, 0.2, 0.3, 0.4], "format": ".1f", "title": "Density"}},
   "strokeDash": {"field": "g", "type": "nominal", "scale": {"domain": ["IPF", "nIPF", "SAR"], "range": [[1, 0], [7, 4], [2, 3.5]]}, "legend": null}}}
]},
{"title": "Off-Therapy: PC5", "width": 194, "height": 107, "layer": [
 {"data": {"values": [{}]}, "mark": {"type": "rule", "color": "#808080", "strokeWidth": 1.5}, "encoding": {"x": {"datum": 0}}},
 {"data": {"name": "dens"}, "transform": [{"filter": "datum.p === 'Off5'"}], "mark": {"type": "line", "color": "black", "strokeWidth": 2.2, "interpolate": "monotone"},
  "encoding": {"x": {"field": "x", "type": "quantitative", "scale": {"domain": [-10.8, 10.8], "nice": false, "zero": false}, "axis": {"values": [-10, -5, 0, 5, 10], "title": "p = 0.89"}},
   "y": {"field": "y", "type": "quantitative", "scale": {"domain": [-0.075, 1.945], "nice": false, "zero": false}, "axis": {"values": [0, 0.5, 1, 1.5], "format": ".1f", "title": "Density"}},
   "strokeDash": {"field": "g", "type": "nominal", "scale": {"domain": ["IPF", "nIPF", "SAR"], "range": [[1, 0], [7, 4], [2, 3.5]]}, "legend": null}}}
]},
{"title": "On-Therapy: PC5", "width": 194, "height": 107, "layer": [
 {"data": {"values": [{}]}, "mark": {"type": "rule", "color": "#808080", "strokeWidth": 1.5}, "encoding": {"x": {"datum": 0}}},
 {"data": {"name": "dens"}, "transform": [{"filter": "datum.p === 'On5'"}], "mark": {"type": "line", "color": "black", "strokeWidth": 2.2, "interpolate": "monotone"},
  "encoding": {"x": {"field": "x", "type": "quantitative", "scale": {"domain": [-10.8, 10.8], "nice": false, "zero": false}, "axis": {"values": [-10, -5, 0, 5, 10], "title": "p = 0.54"}},
   "y": {"field": "y", "type": "quantitative", "scale": {"domain": [-0.075, 1.945], "nice": false, "zero": false}, "axis": {"values": [0, 0.5, 1, 1.5], "format": ".1f", "title": "Density"}},
   "strokeDash": {"field": "g", "type": "nominal", "scale": {"domain": ["IPF", "nIPF", "SAR"], "range": [[1, 0], [7, 4], [2, 3.5]]}, "legend": null}}}
]}
],
"config": {
 "font": "Liberation Sans",
 "view": {"stroke": "#3a3a3a", "strokeWidth": 1.6},
 "axis": {"grid": false, "domain": false, "tickColor": "#3a3a3a", "tickWidth": 1.4, "tickSize": 9, "labelOverlap": false, "labelFont": "Liberation Sans", "labelFontSize": 11, "labelColor": "#333", "titleFont": "Liberation Sans", "titleFontWeight": "normal", "titleFontSize": 13.5, "titleColor": "#333"},
 "axisX": {"labelPadding": 9, "titlePadding": 18, "labelFlush": false},
 "axisY": {"labelPadding": 5, "titlePadding": 12, "minExtent": 36, "maxExtent": 36},
 "title": {"font": "Liberation Sans", "fontSize": 15, "fontWeight": "bold", "offset": 24, "color": "#222"},
 "legend": {"strokeColor": "#3a3a3a", "strokeWidth": 1.4, "padding": 7, "rowPadding": 1.5, "labelFontSize": 8.5, "labelColor": "#444", "labelOffset": 14, "symbolType": "M-2.5,0L2.5,0M-0.55,0A0.55,0.55,0,1,0,0.55,0A0.55,0.55,0,1,0,-0.55,0", "symbolOffset": 2, "symbolStrokeWidth": 1.6, "symbolStrokeColor": "black", "symbolFillColor": "black", "symbolSize": 100}
}
}
